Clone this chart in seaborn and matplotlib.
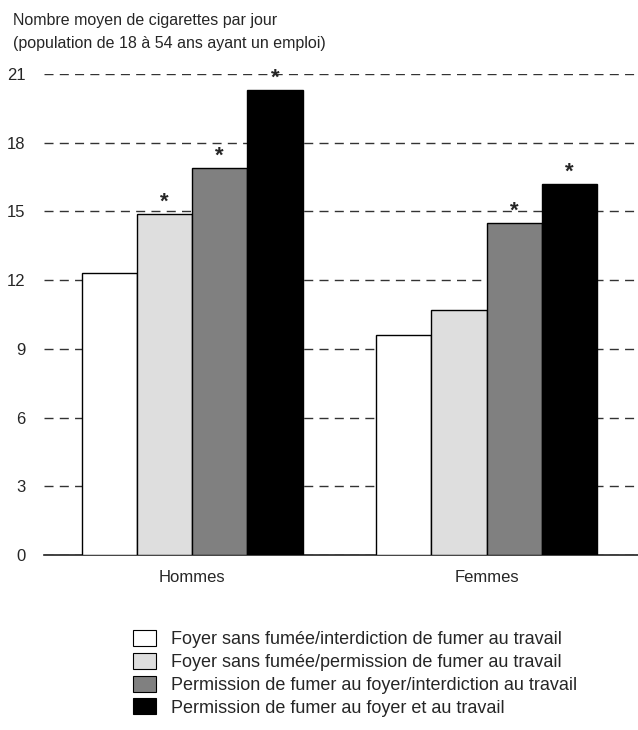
import matplotlib
matplotlib.use("Agg")
import matplotlib.pyplot as plt
import seaborn as sns
import pandas as pd
from matplotlib.patches import Patch

groups = ["Hommes", "Femmes"]
series = [
    "Foyer sans fumée/interdiction de fumer au travail",
    "Foyer sans fumée/permission de fumer au travail",
    "Permission de fumer au foyer/interdiction au travail",
    "Permission de fumer au foyer et au travail",
]
hommes = [12.3, 14.9, 16.9, 20.3]
femmes = [9.6, 10.7, 14.5, 16.2]
stars_hommes = [False, True, True, True]
stars_femmes = [False, False, True, True]
colors = ["#ffffff", "#dedede", "#808080", "#000000"]
yticks = [0, 3, 6, 9, 12, 15, 18, 21]
ylabel = "Nombre moyen de cigarettes par jour\n(population de 18 à 54 ans ayant un emploi)"

rows = []
for g, vals in zip(groups, [hommes, femmes]):
    for s, v in zip(series, vals):
        rows.append({"groupe": g, "serie": s, "valeur": v})
df = pd.DataFrame(rows)

sns.set_theme(style="white")
plt.rcParams["font.family"] = ["Liberation Sans", "DejaVu Sans"]

fig = plt.figure(figsize=(6.38, 7.30), dpi=100)
ax = fig.add_axes([44 / 638, 1 - 555 / 730, 1 - 44 / 638, (555 - 74) / 730])

sns.barplot(data=df, x="groupe", y="valeur", hue="serie", order=groups,
            hue_order=series, palette=colors, width=0.75, edgecolor="black",
            linewidth=1.0, ax=ax, legend=False, zorder=3)

ax.set_ylim(0, 21)
ax.set_xlim(-0.503, 1.514)
ax.set_yticks(yticks)
ax.set_yticklabels([str(t) for t in yticks], fontsize=12)
ax.tick_params(axis="y", length=0, pad=13.5)
ax.tick_params(axis="x", length=0, pad=11, labelsize=12)
ax.set_xlabel("")
ax.set_ylabel("")
for sp in ["left", "right", "top"]:
    ax.spines[sp].set_visible(False)
ax.spines["bottom"].set_color("#222222")
ax.spines["bottom"].set_linewidth(1.2)
ax.yaxis.grid(True, linestyle=(0, (6.5, 4.5)), color="#333333", linewidth=1.0)
ax.set_axisbelow(True)

# stars
flags = {"Hommes": stars_hommes, "Femmes": stars_femmes}
for container, s_idx in zip(ax.containers, range(len(series))):
    for bar, g in zip(container, groups):
        if flags[g][s_idx]:
            ax.text(bar.get_x() + bar.get_width() / 2, bar.get_height() + 0.05, "*",
                    ha="center", va="bottom", fontsize=16, fontweight="bold",
                    clip_on=False, zorder=5)

fig.text(13 / 638, 1 - 13 / 730, ylabel, ha="left", va="top", fontsize=11.5,
         linespacing=1.65)

handles = [Patch(facecolor=c, edgecolor="black", linewidth=0.8) for c in colors]
fig.legend(handles, series, loc="upper left", bbox_to_anchor=(133 / 638, 1 - 630 / 730),
           frameon=False, fontsize=13, handlelength=1.3, handleheight=1.0,
           labelspacing=0.25, handletextpad=0.8, borderaxespad=0, borderpad=0)

fig.savefig("out.png", dpi=100)
